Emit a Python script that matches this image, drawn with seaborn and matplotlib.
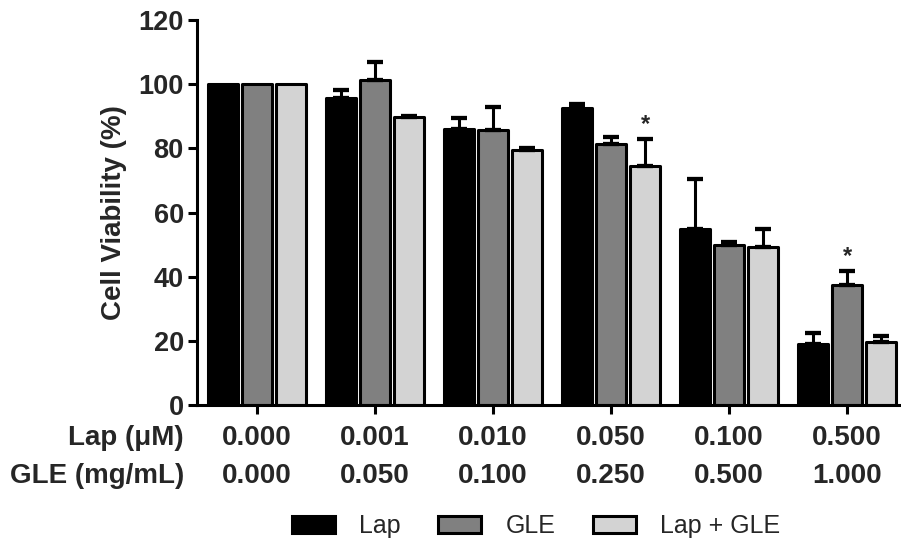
import numpy as np
import pandas as pd
import matplotlib
matplotlib.use("Agg")
import matplotlib.pyplot as plt
import matplotlib.transforms as mtransforms
from matplotlib.patches import Patch
import seaborn as sns

# ─── DATA ────────────────────────────────────────────────────────────────────
lap_conc = ["0.000", "0.001", "0.010", "0.050", "0.100", "0.500"]   # µM
gle_conc = ["0.000", "0.050", "0.100", "0.250", "0.500", "1.000"]   # mg/mL
series = ["Lap", "GLE", "Lap + GLE"]

lap_mean = [100, 95.7, 86.2, 92.6, 54.8, 18.9]
lap_err = [0, 2.5, 3.4, 1.4, 15.6, 3.6]
gle_mean = [100, 101.3, 85.7, 81.4, 49.9, 37.3]
gle_err = [0, 5.5, 7.3, 2.2, 1.0, 4.6]
combo_mean = [100, 89.7, 79.5, 74.6, 49.3, 19.6]
combo_err = [0, 0.5, 0.7, 8.4, 5.5, 1.8]

# (series, dose index) marked as significant
stars = [("Lap + GLE", 3), ("GLE", 5)]

colors = ["#000000", "#808080", "#d3d3d3"]

# ─── LONG TABLE ──────────────────────────────────────────────────────────────
dose = [f"{a}\n{b}" for a, b in zip(lap_conc, gle_conc)]
means = {"Lap": lap_mean, "GLE": gle_mean, "Lap + GLE": combo_mean}
errs = {"Lap": lap_err, "GLE": gle_err, "Lap + GLE": combo_err}
df = pd.DataFrame([
    {"dose": d, "group": s, "viability": means[s][i], "err": errs[s][i]}
    for s in series for i, d in enumerate(dose)
])

# ─── PLOT ────────────────────────────────────────────────────────────────────
sns.set_style("ticks")
plt.rcParams["font.family"] = ["Liberation Sans", "DejaVu Sans"]

LW = 2.2
TICK_LEN, XPAD = 6.5, 8
ROW_SPACING = 1.6

fig = plt.figure(figsize=(9.01, 5.44), dpi=100)
ax = fig.add_axes([0.2186, 0.2555, 0.7804, 0.7075])

sns.barplot(data=df, x="dose", y="viability", hue="group", order=dose,
            hue_order=series, palette=colors, width=0.87, gap=0.12,
            edgecolor="black", linewidth=LW, errorbar=None, saturation=1,
            legend=False, ax=ax)

# error bars (upper only) + significance marks, on the bars seaborn drew
for s, cont in zip(series, ax.containers):
    for i, bar in enumerate(cont):
        bar.set_joinstyle("round")
        x = bar.get_x() + bar.get_width() / 2
        h = bar.get_height()
        e = errs[s][i]
        if e > 0:
            ax.errorbar(x, h, yerr=[[0], [e]], fmt="none", ecolor="black",
                        elinewidth=LW, capsize=6, capthick=LW * 1.4, zorder=1)
        if (s, i) in stars:
            ax.text(x, h + e + 0.8, "*", ha="center", va="bottom",
                    fontsize=17, fontweight="bold")

ax.set_ylim(0, 120)
ax.set_xlim(-0.51, 5.45)
ax.set_yticks(range(0, 121, 20))
ax.set_xlabel("")
ax.set_ylabel("Cell Viability (%)", fontsize=20, fontweight="bold", labelpad=8)

for sp in ["top", "right"]:
    ax.spines[sp].set_visible(False)
for sp in ["left", "bottom"]:
    ax.spines[sp].set_linewidth(LW)
    ax.spines[sp].set_color("black")

ax.tick_params(axis="both", length=TICK_LEN, width=LW, color="black")
ax.tick_params(axis="y", labelsize=19.5, pad=3)
ax.tick_params(axis="x", labelsize=20, pad=XPAD)
for lbl in ax.get_yticklabels():
    lbl.set_fontweight("bold")
for lbl in ax.get_xticklabels():
    lbl.set_fontweight("bold")
    lbl.set_linespacing(ROW_SPACING)

# row headers for the two dose rows, level with the tick labels
trans = mtransforms.blended_transform_factory(fig.transFigure, ax.transAxes)
trans = trans + mtransforms.ScaledTranslation(0, -(TICK_LEN + XPAD) / 72,
                                              fig.dpi_scale_trans)
ax.text(0.204, 0, "Lap (μM)\nGLE (mg/mL)", transform=trans, ha="right",
        va="top", multialignment="right", fontsize=20, fontweight="bold",
        linespacing=ROW_SPACING, clip_on=False)

# legend
handles = [Patch(facecolor=c, edgecolor="black", linewidth=LW) for c in colors]
fig.legend(handles, series, loc="center", bbox_to_anchor=(0.595, 0.033),
           ncol=3, frameon=False, fontsize=18, handlelength=1.72,
           handleheight=0.68, handletextpad=0.96, columnspacing=1.5)

fig.savefig("out.png", dpi=100)
